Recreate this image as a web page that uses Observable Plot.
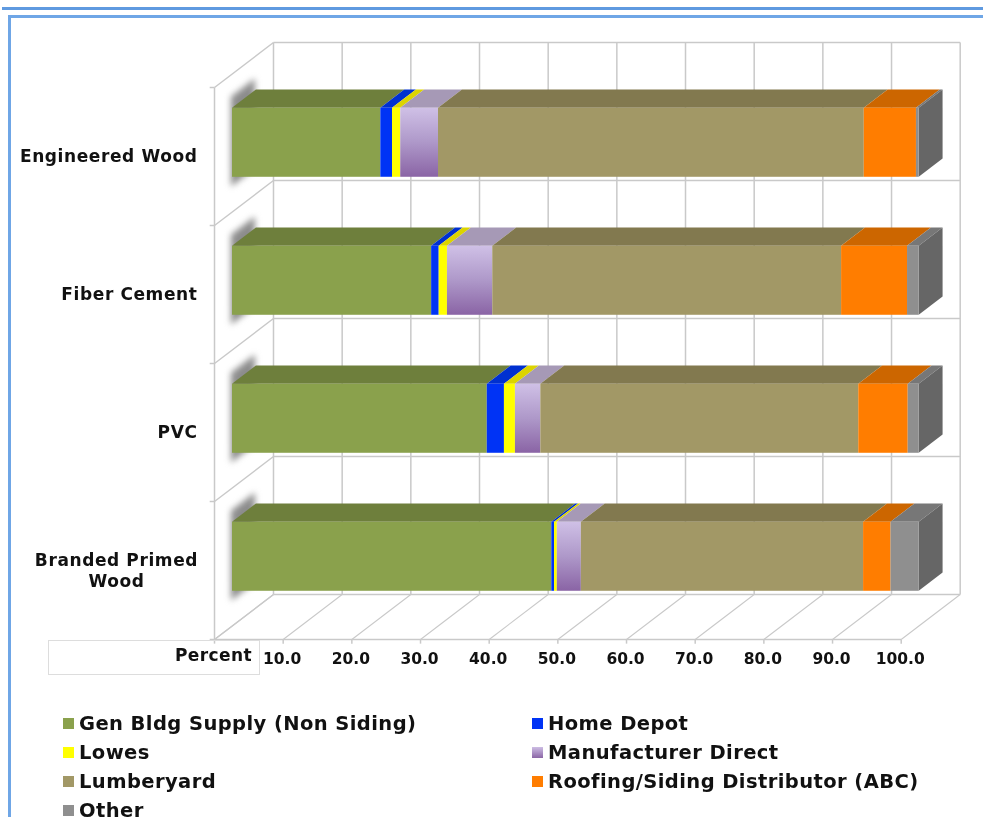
<!DOCTYPE html>
<html><head><meta charset="utf-8">
<script src="https://cdn.jsdelivr.net/npm/d3@7"></script>
<script src="https://cdn.jsdelivr.net/npm/@observablehq/plot@0.6"></script>
<style>
html,body{margin:0;padding:0;background:#fff;width:983px;height:817px;overflow:hidden;position:relative;font-family:"DejaVu Sans",sans-serif;}
.frame{position:absolute;background:#6fa6e6;}
#chart svg{display:block;filter:blur(.45px);}
#pct{position:absolute;left:48px;top:640px;width:212px;height:35px;box-sizing:border-box;border:1px solid #ddd;text-align:right;padding:4px 7px 0 0;font-weight:bold;font-size:17px;letter-spacing:.4px;color:#111;filter:blur(.4px);}
#legend{display:grid;grid-template-columns:469px auto;grid-auto-rows:29px;padding-left:63px;padding-top:1px;filter:blur(.4px);}
#legend div{display:flex;align-items:center;font-weight:bold;font-size:19.5px;letter-spacing:.42px;color:#111;white-space:nowrap;}
#legend i{width:11px;height:11px;margin-right:5px;display:block;flex:none;}
.lab{letter-spacing:.6px;}
</style></head><body>
<div class="frame" style="left:2px;top:7px;width:981px;height:3px;background:#5f9ae0"></div>
<div class="frame" style="left:8px;top:15px;width:975px;height:2.5px"></div>
<div class="frame" style="left:8px;top:15px;width:3px;height:802px"></div>
<div id="chart"></div>
<div id="pct">Percent</div>
<div id="legend"></div>
<script>
const categories = ["Engineered Wood", "Fiber Cement", "PVC", "Branded Primed Wood"];
const seriesNames = ["Gen Bldg Supply (Non Siding)", "Home Depot", "Lowes", "Manufacturer Direct", "Lumberyard", "Roofing/Siding Distributor (ABC)", "Other"];
const genBldg      = [21.6, 29.0, 37.1, 46.5];
const homeDepot    = [1.7, 1.1, 2.5, 0.4];
const lowes        = [1.2, 1.2, 1.6, 0.4];
const manufacturer = [5.5, 6.6, 3.7, 3.5];
const lumberyard   = [62.0, 50.8, 46.3, 41.1];
const roofing      = [7.6, 9.6, 7.2, 4.0];
const other        = [0.4, 1.7, 1.6, 4.1];
const xTicks = [10, 20, 30, 40, 50, 60, 70, 80, 90, 100];
const frontColors = ["#8aa14c", "#0033f5", "#ffff00", "url(#mdGrad)", "#a29866", "#ff7d00", "#8f8f8f"];
const topColors   = ["#6e7f3c", "#0030d0", "#dcd400", "#a699b6", "#82794f", "#cc6600", "#777777"];
const legendColors = ["#8aa14c", "#0033f5", "#ffff00", "linear-gradient(#cdbde4,#8b66a6)", "#a29866", "#ff7d00", "#8f8f8f"];

const allSeries = [genBldg, homeDepot, lowes, manufacturer, lumberyard, roofing, other];

// oblique projection of the 3-D box: depth d runs from the front plane (0) to the back wall (1)
const px = (p, d) => p - 2.62 + d * 8.59;
const py = (r, d) => r - d * 0.326;
const dFront = 0.305, dBack = 0.71;
const barShift = 2.62 - 0.305 * 8.59;

const segs = [];
categories.forEach((c, row) => {
  let acc = 0;
  allSeries.forEach((vals, s) => {
    segs.push({row, s, a: acc, b: acc + vals[row]});
    acc += vals[row];
  });
});

const rows = [0, 1, 2, 3, 4];
const gridPct = [0, ...xTicks];
const link = (data, o) => Plot.link(data, {stroke: "#c9c9c9", strokeWidth: 1.5, ...o});

const topFace = segs.flatMap(d => [dFront, dBack].map(k => ({...d, k})));
const sideFace = segs.filter(d => d.s === 6).flatMap(d => [dFront, dBack].map(k => ({...d, k})));
const shadowFace = categories.flatMap((c, row) => [dFront, dBack].map(k => ({row, k})));
const labelStyle = {fontWeight: "bold", fontSize: 17, fill: "#111", className: "lab"};

const marks = [
  () => {
    const ns = "http://www.w3.org/2000/svg";
    const defs = document.createElementNS(ns, "defs");
    defs.innerHTML = '<linearGradient id="mdGrad" x1="0" y1="0" x2="0" y2="1"><stop offset="0" stop-color="#cfc0e6"/><stop offset=".5" stop-color="#ae98c9"/><stop offset="1" stop-color="#8a64a5"/></linearGradient>';
    return defs;
  },
  // back wall
  link(gridPct, {x1: p => px(p, 1), x2: p => px(p, 1), y1: () => py(0, 1), y2: () => py(4, 1)}),
  link(rows, {x1: () => px(0, 1), x2: () => px(100, 1), y1: r => py(r, 1), y2: r => py(r, 1)}),
  // left wall
  link(rows, {x1: () => px(0, 0), x2: () => px(0, 1), y1: r => py(r, 0), y2: r => py(r, 1)}),
  link([0], {x1: () => px(0, 0), x2: () => px(0, 0), y1: () => 0, y2: () => 4}),
  // floor
  link(gridPct, {x1: p => px(p, 0), x2: p => px(p, 1), y1: () => 4, y2: () => py(4, 1), strokeWidth: 1.1}),
  link([0], {x1: () => px(0, 0), x2: () => px(100, 0), y1: () => 4, y2: () => 4}),
  // ticks
  link(gridPct, {x1: p => px(p, 0), x2: p => px(p, 0), y1: () => 4, y2: () => 4.03}),
  link(rows, {x1: () => px(-0.7, 0), x2: () => px(0, 0), y1: r => r, y2: r => r}),
  // soft shadow at the bars' left ends
  Plot.area(shadowFace, {
    x1: d => px(-0.15, d.k), x2: d => px(-0.15, d.k),
    y1: d => py(d.row + 0.17, d.k), y2: d => py(d.row + 0.82, d.k),
    z: "row", fill: "#808080", fillOpacity: 0.9, imageFilter: "blur(3px)"
  }),
  // top faces
  ...seriesNames.map((n, s) => Plot.area(topFace.filter(d => d.s === s), {
    x1: d => px(d.a, d.k) + barShift, x2: d => px(d.b, d.k) + barShift,
    y1: d => py(d.row + 0.25, d.k), y2: d => py(d.row + 0.25, d.k),
    z: "row", fill: topColors[s]
  })),
  // right end
  Plot.area(sideFace, {
    x1: d => px(100, d.k) + barShift, x2: d => px(100, d.k) + barShift,
    y1: d => py(d.row + 0.25, d.k), y2: d => py(d.row + 0.75, d.k),
    z: "row", fill: "#666"
  }),
  // front faces
  ...seriesNames.map((n, s) => Plot.rect(segs.filter(d => d.s === s), {
    x1: "a", x2: "b",
    y1: d => py(d.row + 0.25, dFront), y2: d => py(d.row + 0.75, dFront),
    fill: frontColors[s], inset: 0
  })),
  // labels
  Plot.text(xTicks, {x: p => px(p, 0), y: () => 4, dy: 20, dx: -1, text: d3.format(".1f"),
    fontWeight: "bold", fontSize: 15.5, fill: "#111", textAnchor: "middle"}),
  Plot.text(categories.slice(0, 3), {x: () => -5.1, y: (c, i) => i + 0.5, text: d => d, ...labelStyle, textAnchor: "end"}),
  Plot.text(["Branded Primed", "Wood"], {x: () => -16.9, y: (c, i) => 3.425 + i * 0.155, text: d => d, ...labelStyle, textAnchor: "middle"})
];

const chart = Plot.plot({
  width: 983, height: 708,
  marginLeft: 0, marginRight: 0, marginTop: 0, marginBottom: 0,
  style: {fontFamily: "DejaVu Sans", background: "transparent", overflow: "visible"},
  x: {domain: [0, 100], range: [232, 918.7], axis: null},
  y: {domain: [0, 4], range: [87, 639], axis: null},
  marks
});
document.getElementById("chart").append(chart);

const legend = document.getElementById("legend");
seriesNames.forEach((name, i) => {
  const row = document.createElement("div");
  const sw = document.createElement("i");
  sw.style.background = legendColors[i];
  row.append(sw, document.createTextNode(name));
  legend.append(row);
});
</script>
</body></html>
